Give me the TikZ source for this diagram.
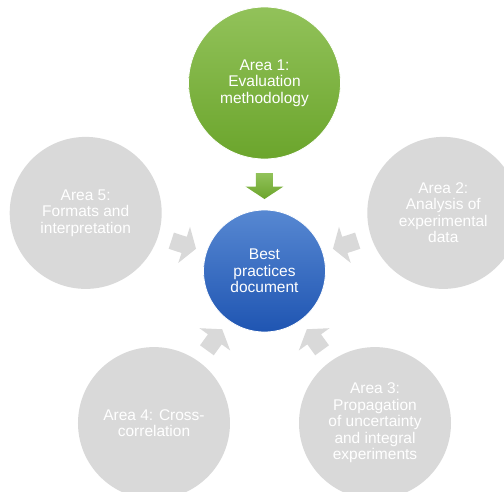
\documentclass[tikz,border=0pt]{standalone}
\usepackage{fontspec}
\setmainfont{Liberation Sans}
\definecolor{greenlt}{HTML}{92C25A}
\definecolor{greendk}{HTML}{6BA52C}
\definecolor{bluelt}{HTML}{5788D2}
\definecolor{bluedk}{HTML}{1F55B2}
\definecolor{grayfill}{HTML}{D9D9D9}

\begin{document}
\begin{tikzpicture}[x=1pt, y=1pt, font=\fontsize{15.5}{16.5}\selectfont, line join=round,
  sat/.style={circle, minimum size=152pt, inner sep=0pt, align=center, text=white},
  satgray/.style={sat, fill=grayfill},
  satgreen/.style={sat, top color=greenlt, bottom color=greendk, draw=white, line width=0.8pt},
  hub/.style={circle, minimum size=122pt, inner sep=0pt, align=center, text=white, top color=bluelt, bottom color=bluedk, draw=white, line width=0.8pt},
  grayarrow/.style={fill=grayfill},
  greenarrow/.style={top color=greenlt, bottom color=greendk}]
\def \rsat{188};
\def \tip{72};
\def \neck{84.5};
\def \tail{98};
\useasboundingbox (-264.5,-220) rectangle (239.5,271);
\node[hub] (best) at (0,0) {Best\\practices\\document};
\node[satgreen] (area1) at (90:\rsat) {Area 1:\\Evaluation\\methodology};
\node[satgray] (area2) at (18:\rsat) {Area 2:\\Analysis of\\experimental\\data};
\node[satgray] (area3) at (-54:\rsat) {Area 3:\\Propagation\\of uncertainty\\and integral\\experiments};
\node[satgray] (area4) at (-126:\rsat) {Area 4: Cross-\\correlation};
\node[satgray] (area5) at (162:\rsat) {Area 5:\\Formats and\\interpretation};
% block arrows into the hub
\shade[greenarrow] (0,\tip) -- (-19,\neck) -- (-8.5,\neck) -- (-8.5,\tail) -- (8.5,\tail) -- (8.5,\neck) -- (19,\neck) -- cycle;
\foreach \a in {18,-54,-126,162}
  \fill[grayarrow, rotate=\a] (\tip,0) -- (\neck,19) -- (\neck,8.5) -- (\tail,8.5) -- (\tail,-8.5) -- (\neck,-8.5) -- (\neck,-19) -- cycle;
\end{tikzpicture}
\end{document}
